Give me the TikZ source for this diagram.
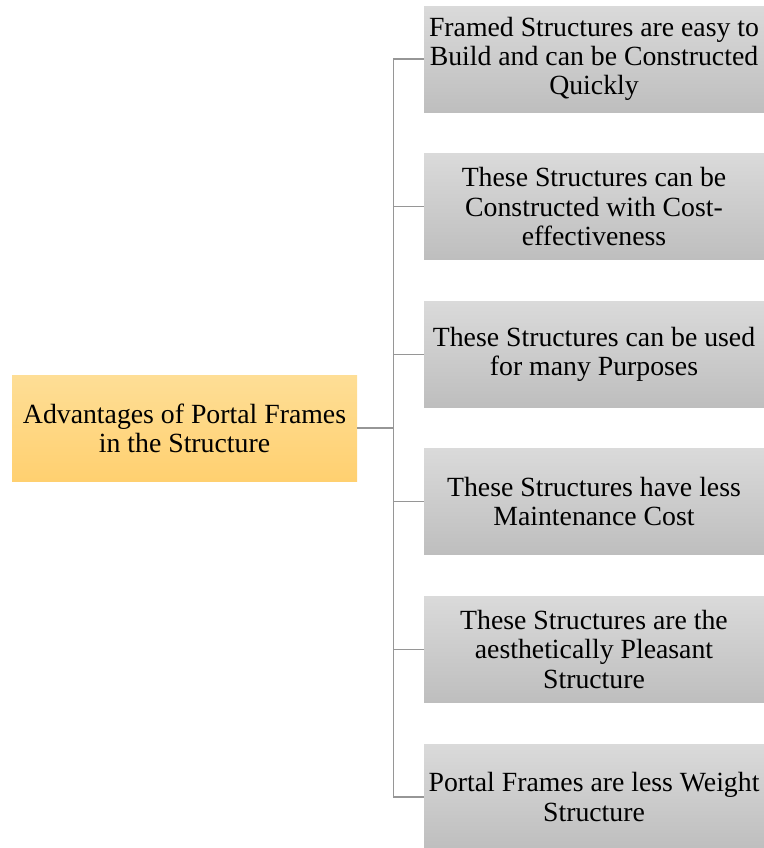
\documentclass[tikz,border=0pt]{standalone}
\usepackage{fontspec}
\setmainfont{Liberation Serif}
\usetikzlibrary{positioning}

\definecolor{advtop}{RGB}{254,222,150}
\definecolor{advbot}{RGB}{255,208,112}
\definecolor{boxtop}{RGB}{218,218,218}
\definecolor{boxbot}{RGB}{190,190,190}
\definecolor{linkgray}{RGB}{150,150,150}

\tikzset{
  advbox/.style={rectangle, minimum width=6.9cm, minimum height=2.12cm,
    inner xsep=0pt, top color=advtop, bottom color=advbot, align=center,
    font=\fontsize{15.8}{16.6}\selectfont, text=black},
  benefit/.style={rectangle, minimum width=6.8cm, minimum height=2.12cm,
    inner xsep=0pt, top color=boxtop, bottom color=boxbot, align=center,
    font=\fontsize{15.8}{16.6}\selectfont, text=black},
  link/.style={draw=linkgray, line width=0.6pt}
}

\begin{document}
\begin{tikzpicture}[node distance=2.952cm,on grid]
    \useasboundingbox (0,0) rectangle (15.28,-16.96);
    \node[advbox]  (adv) at (3.69,-8.56) {Advantages of Portal Frames\\in the Structure};
    \node[benefit] (b_1) at (11.88,-1.18) {Framed Structures are easy to\\Build and can be Constructed\\Quickly};
    \node[benefit] (b_2) [below=of b_1] {These Structures can be\\Constructed with Cost-\\effectiveness};
    \node[benefit] (b_3) [below=of b_2] {These Structures can be used\\for many Purposes};
    \node[benefit] (b_4) [below=of b_3] {These Structures have less\\Maintenance Cost};
    \node[benefit] (b_5) [below=of b_4] {These Structures are the\\aesthetically Pleasant\\Structure};
    \node[benefit] (b_6) [below=of b_5] {Portal Frames are less Weight\\Structure};
    % tree connectors
    \draw[link] (adv.east) -- ++(0.72,0) coordinate (hub);
    \draw[link] (hub |- b_1.west) -- (hub |- b_6.west);
    \draw[link] (b_1.west) -- (hub |- b_1.west)
                (b_2.west) -- (hub |- b_2.west)
                (b_3.west) -- (hub |- b_3.west)
                (b_4.west) -- (hub |- b_4.west)
                (b_5.west) -- (hub |- b_5.west)
                (b_6.west) -- (hub |- b_6.west);
\end{tikzpicture}
\end{document}
